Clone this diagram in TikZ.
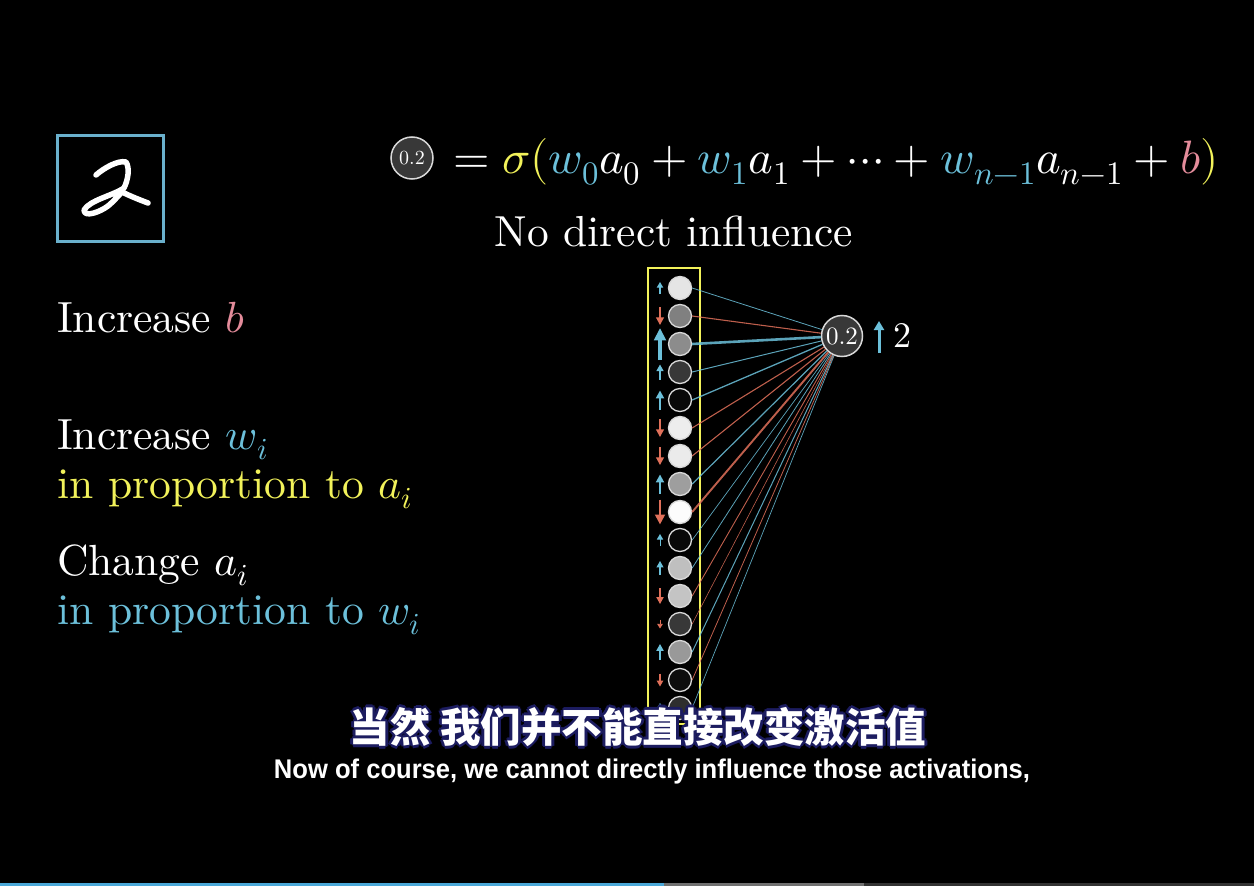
\documentclass[tikz,border=0pt]{standalone}
\usepackage{fontspec}
\usepackage{unicode-math}
\setmainfont{lmroman10-regular.otf}[ItalicFont=lmroman10-italic.otf,BoldFont=lmroman10-bold.otf]
\setmathfont{Latin Modern Math}
\newfontfamily\cjk{Noto Sans CJK SC}
\newfontfamily\subfont{Liberation Sans}
\usetikzlibrary{arrows.meta}
\definecolor{wblue}{HTML}{6CC0DA}
\definecolor{lred}{HTML}{E0705A}
\definecolor{ylw}{HTML}{F2F25A}
\definecolor{bpink}{HTML}{E48C9B}
\definecolor{boxblue}{HTML}{6AB0CC}
\definecolor{barblue}{HTML}{4AA8D8}
\definecolor{navy}{HTML}{1C1C60}
\tikzset{
  txt/.style={anchor=base west, text=white, inner sep=0pt, font=\fontsize{43.6}{50}\selectfont},
  neuron/.style={circle, draw=white!85!black, line width=1.3pt, minimum size=23pt, inner sep=0pt},
  bigneuron/.style={circle, draw=white!85!black, fill=white!22!black, line width=1.5pt, inner sep=0pt, text=white},
}
\begin{document}
\begin{tikzpicture}[x=1pt,y=-1pt]
\fill[black] (0,0) rectangle (1254,886);
\useasboundingbox (0,0) rectangle (1254,886);
% progress bar
\fill[white!20!black] (0,883) rectangle (1254,886);
\fill[white!44!black] (0,883) rectangle (864,886);
\fill[barblue] (0,883) rectangle (664,886);
% digit image
\draw[boxblue, line width=3pt] (57,135) rectangle (163,241);
\draw[white, line width=5.5pt, line cap=round, line join=round]
  (96,175) .. controls (104,168) and (118,160) .. (126,162)
  .. controls (130,168) and (128,180) .. (124,188)
  .. controls (112,196) and (90,200) .. (84,210)
  .. controls (84,218) and (100,212) .. (108,206)
  .. controls (114,201) and (118,196) .. (122,192)
  .. controls (130,196) and (140,200) .. (148,203);
% formula
\node[bigneuron, minimum size=42pt, font=\fontsize{20}{20}\selectfont] (f) at (412,158) {0.2};
\node[txt, font=\fontsize{46.8}{52}\selectfont] (eq) at (453,173)
 {$=\textcolor{ylw}{\sigma(}\textcolor{wblue}{w_0}a_0+\textcolor{wblue}{w_1}a_1+\cdots+\textcolor{wblue}{w_{n-1}}a_{n-1}+\textcolor{bpink}{b}\textcolor{ylw}{)}$};
\node[txt, anchor=base, font=\fontsize{43.4}{50}\selectfont] (nd) at (674,246) {No direct influence};
% left texts
\node[txt] (t1) at (57,332) {Increase \textcolor{bpink}{$b$}};
\node[txt] (t2) at (57,449) {Increase \textcolor{wblue}{$w_i$}};
\node[txt, text=ylw] (t3) at (57,498) {in proportion to $a_i$};
\node[txt] (t4) at (57,575) {Change $a_i$};
\node[txt, text=wblue] (t5) at (57,624) {in proportion to $w_i$};
% output neuron
\node[bigneuron, minimum size=41pt, font=\fontsize{25}{25}\selectfont] (out) at (842,336) {0.2};
\coordinate (oa1) at (879,353);
\coordinate (oa2) at (879,321);
\draw[wblue, line width=3pt, -{Triangle[length=9pt,width=10pt]}] (oa1) -- (oa2);
\node[txt, font=\fontsize{36}{40}\selectfont] (two) at (893,347) {2};
% input column
\draw[ylw, line width=2.5pt] (648,268) rectangle (700,724);
\foreach \i/\g/\d/\l/\w in {
 1/90/1/12/0.8, 2/50/-1/18/1.1, 3/55/1/32/2.6, 4/22/1/15/1.0,
 5/3/1/19/1.3, 6/93/-1/18/1.1, 7/92/-1/18/1.1, 8/62/1/19/1.2,
 9/99/-1/25/1.9, 10/3/1/12/0.7, 11/75/1/14/0.8, 12/77/-1/16/0.9,
 13/22/-1/9/0.6, 14/60/1/16/1.0, 15/5/-1/13/0.8, 16/18/1/10/0.7}{
  \pgfmathsetmacro{\y}{288+(\i-1)*28}
  \ifnum\d=1 \def\cc{wblue}\else\def\cc{lred}\fi
  \node[neuron, fill=white!\g!black] (n\i) at (680,\y) {};
  \draw[\cc, line width=\w pt, opacity=0.85] (n\i.east) -- (out);
  \pgfmathsetmacro{\ya}{\y+\d*\l/2}
  \pgfmathsetmacro{\yb}{\y-\d*\l/2}
  \pgfmathsetmacro{\hl}{0.34*\l+1.5}
  \pgfmathsetmacro{\hw}{0.27*\l+3}
  \coordinate (a\i) at (660,\ya);
  \coordinate (b\i) at (660,\yb);
  \draw[\cc, line width={\w*1.3pt}, -{Triangle[length=\hl pt,width=\hw pt]}] (a\i) -- (b\i);
}
% subtitles
\foreach \dx/\dy in {-2/0,2/0,0/-2,0/2,-1.5/-1.5,1.5/1.5,-1.5/1.5,1.5/-1.5,-3/0,3/0,0/3,0/-3}{
  \node[text=navy, inner sep=0pt, font=\cjk\bfseries\fontsize{40.5}{44}\selectfont] at (638+\dx,727+\dy) {当然 我们并不能直接改变激活值};
}
\node[text=white, inner sep=0pt, font=\cjk\bfseries\fontsize{40.5}{44}\selectfont] (zh) at (638,727) {当然 我们并不能直接改变激活值};
\node[text=white, inner sep=0pt, anchor=base] (en) at (652,778) {\resizebox{756pt}{\height}{\subfont\bfseries\fontsize{27}{30}\selectfont Now of course, we cannot directly influence those activations,}};
\end{tikzpicture}
\end{document}
